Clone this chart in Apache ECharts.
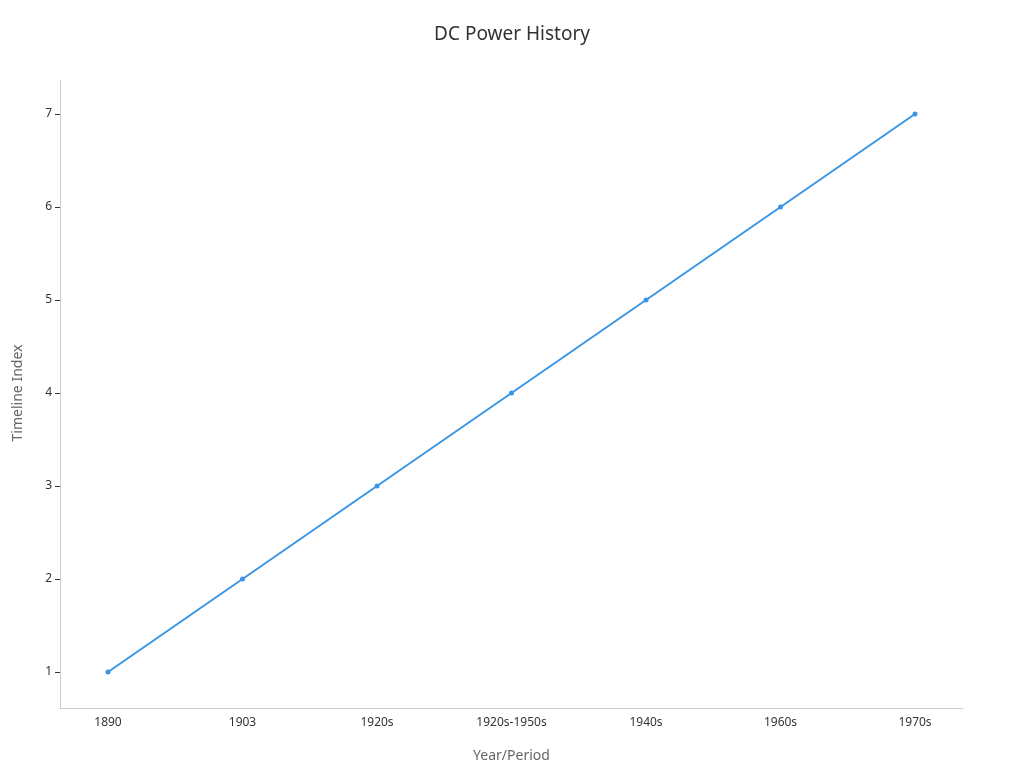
<!DOCTYPE html><html><head><meta charset="utf-8"><script src="https://cdn.jsdelivr.net/npm/echarts@6/dist/echarts.min.js"></script></head><body style="margin:0"><div id="c" style="width:1024px;height:768px"></div><script>
const categories=['1890','1903','1920s','1920s-1950s','1940s','1960s','1970s'];
const values=[1,2,3,4,5,6,7];
const c=echarts.init(document.getElementById('c'));
const font='"Noto Sans", sans-serif';
c.setOption({
title:{text:'DC Power History',left:'center',top:20,textStyle:{fontSize:19,fontWeight:'normal',color:'#333',fontFamily:font}},
grid:[{left:60,right:61,top:80,bottom:60},{left:108,right:109,top:114,bottom:95}],
xAxis:[{gridIndex:0,type:'value',min:0,max:1,axisLine:{lineStyle:{color:'#ccc'}},axisTick:{show:false},axisLabel:{show:false},splitLine:{show:false}},
{gridIndex:1,type:'category',data:categories,boundaryGap:false,offset:35,axisLine:{show:false},axisTick:{show:false},axisLabel:{color:'#333',fontSize:12,fontFamily:font,margin:10},name:'Year/Period',nameLocation:'middle',nameGap:42,nameTextStyle:{color:'#666',fontSize:14,fontFamily:font}}],
yAxis:[{gridIndex:0,type:'value',min:0,max:1,axisLine:{show:true,lineStyle:{color:'#ccc'}},axisTick:{show:false},axisLabel:{show:false},splitLine:{show:false}},
{gridIndex:1,type:'value',min:1,max:7,interval:1,offset:48,axisLine:{show:false},axisTick:{show:true,length:5,lineStyle:{color:'#333'}},axisLabel:{color:'#333',fontSize:12,fontFamily:font,margin:8},splitLine:{show:false},name:'Timeline Index',nameLocation:'middle',nameGap:35,nameTextStyle:{color:'#666',fontSize:14,fontFamily:font}}],
series:[{type:'line',xAxisIndex:1,yAxisIndex:1,data:values,symbol:'circle',symbolSize:5,lineStyle:{color:'#3a96e4',width:2},itemStyle:{color:'#3a96e4'}}]
});
</script></body></html>
